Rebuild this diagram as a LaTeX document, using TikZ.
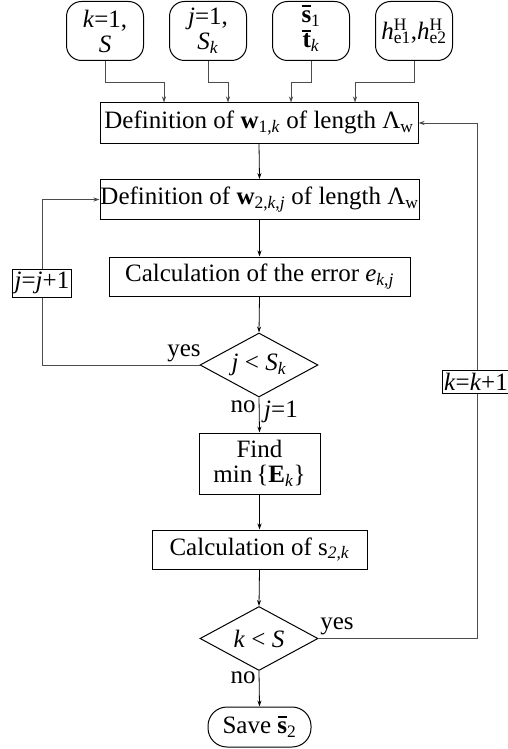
\documentclass[tikz,border=0pt]{standalone}
\usepackage{fontspec}
\setmainfont{Liberation Serif}
\usetikzlibrary{shapes.geometric,arrows.meta}
\newcommand\supsub[2]{\rlap{\textsuperscript{#1}}\textsubscript{#2}}
\newcommand\sbar[1]{\textbf{\ooalign{#1\cr\hidewidth\rule[0.62em]{0.38em}{0.075em}\hidewidth\cr}}}
\begin{document}
\begin{tikzpicture}[x=1pt,y=-1pt,
  font=\fontsize{25}{25}\selectfont,
  every node/.style={inner sep=0pt},
  startbox/.style={draw, line width=1pt, rounded corners=15pt, minimum width=77pt, minimum height=59pt, align=center},
  procbox/.style={draw, line width=1pt, align=center},
  decbox/.style={draw, line width=1pt, diamond, aspect=1.84, minimum width=118pt, minimum height=64pt},
  endbox/.style={draw, line width=1pt, rounded corners=19pt, minimum width=103pt, minimum height=40pt},
  lbl/.style={anchor=base},
  loopbox/.style={draw, line width=0.8pt, fill=white, inner xsep=2pt, inner ysep=3pt},
  flow/.style={draw=black, line width=0.8pt, -{Stealth[length=6pt,width=4pt]}},
  conn/.style={draw=black!70, line width=0.8pt, -{Stealth[length=6pt,width=4pt]}}
]
\useasboundingbox (0,0) rectangle (507,749);

% start nodes
\node[startbox] (a1) at (105,31) {\textit{k}=1,\\\textit{S}};
\node[startbox] (a2) at (208,31) {\textit{j}=1,\\\textit{S}\textsubscript{\textit{k}}};
\node[startbox] (a3) at (311,31) {\sbar{s}\textsubscript{1}\\\sbar{t}\textsubscript{\textit{k}}};
\node[startbox] (a4) at (414,31) {\textit{h}\supsub{H}{e1},\textit{h}\supsub{H}{e2}};

% process boxes
\node[procbox, minimum width=318pt, minimum height=40pt] (b1) at (259,123)
  {Definition of \textbf{w}\textsubscript{1,\textit{k}} of length Λ\textsubscript{w}};
\node[procbox, minimum width=319pt, minimum height=40pt] (b2) at (259.5,199.5)
  {Definition of \textbf{w}\textsubscript{2,\textit{k},\textit{j}} of length Λ\textsubscript{w}};
\node[procbox, minimum width=301pt, minimum height=39pt] (b3) at (259.5,276.5)
  {Calculation of the error \textit{e}\textsubscript{\textit{k},\textit{j}}};
\node[decbox] (d1) at (259,365) {\textit{j} < \textit{S}\textsubscript{\textit{k}}};
\node[procbox, minimum width=121pt, minimum height=61pt] (b4) at (259.5,463.5)
  {Find\\min\,\{\textbf{E}\textsubscript{\textit{k}}\}};
\node[procbox, minimum width=215pt, minimum height=39pt] (b5) at (259.5,549.5)
  {Calculation of s\textsubscript{\textit{2},\textit{k}}};
\node[decbox] (d2) at (259,638.5) {\textit{k} < \textit{S}};
\node[endbox] (e) at (259.5,727) {Save \sbar{s}\textsubscript{2}};

% connectors from start nodes
\coordinate (c1) at (164,82);
\coordinate (c2) at (228,82);
\coordinate (c3) at (291,82);
\coordinate (c4) at (355,82);
\draw[conn] (a1.south) |- (c1) -- (c1 |- b1.north);
\draw[conn] (a2.south) |- (c2) -- (c2 |- b1.north);
\draw[conn] (a3.south) |- (c3) -- (c3 |- b1.north);
\draw[conn] (a4.south) |- (c4) -- (c4 |- b1.north);

% main flow
\draw[flow] (b1.south) -- (b2.north);
\draw[flow] (b2.south) -- (b3.north);
\draw[flow] (b3.south) -- (d1.north);
\draw[flow] (d1.south) -- (b4.north);
\draw[flow] (b4.south) -- (b5.north);
\draw[flow] (b5.south) -- (d2.north);
\draw[flow] (d2.south) -- (e.north);

% loops
\coordinate (lx) at (42,0);
\draw[conn] (d1.west) -| (lx |- b2.west) -- (b2.west);
\coordinate (rtop) at (477,123);
\draw[conn] (d2.east) -| (rtop) -- (b1.east);

\node[loopbox] (lj) at (42,283) {\textit{j}=\textit{j}+1};
\node[loopbox] (lk) at (476,382) {\textit{k}=\textit{k}+1};

% labels
\node[lbl] (y1) at (184,356) {yes};
\node[lbl] (n1) at (243,412) {no};
\node[lbl] (j1) at (281,417) {\textit{j}=1};
\node[lbl] (y2) at (337,629) {yes};
\node[lbl] (n2) at (243,683) {no};
\end{tikzpicture}
\end{document}
